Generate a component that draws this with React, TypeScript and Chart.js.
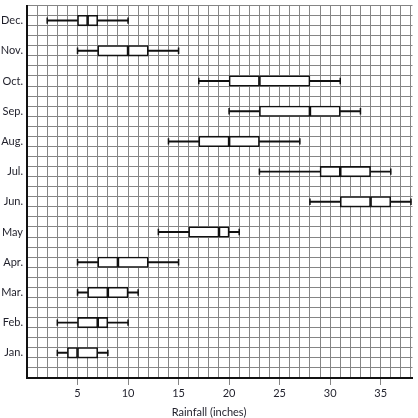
import React, { useEffect, useRef } from "react";
import { Chart, registerables } from "chart.js";

Chart.register(...registerables);

const months = ["Jan.", "Feb.", "Mar.", "Apr.", "May", "Jun.", "Jul.", "Aug.", "Sep.", "Oct.", "Nov.", "Dec."];
const minVals = [3, 3, 5, 5, 13, 28, 23, 14, 20, 17, 5, 2];
const q1Vals = [4, 5, 6, 7, 16, 31, 29, 17, 23, 20, 7, 5];
const medVals = [5, 7, 8, 9, 19, 34, 31, 20, 28, 23, 10, 6];
const q3Vals = [7, 8, 10, 12, 20, 36, 34, 23, 31, 28, 12, 7];
const maxVals = [8, 10, 11, 15, 21, 38, 36, 27, 33, 31, 15, 10];
const xTickLabels = [5, 10, 15, 20, 25, 30, 35];
const axisTitle = "Rainfall (inches)";

const FONT = "Lato, 'Open Sans', sans-serif";
const GRID = "#858585";
const TEXT = "#1f1f2a";
const INK = "#111111";

export default function App() {
  const ref = useRef<HTMLCanvasElement | null>(null);

  useEffect(() => {
    const canvas = ref.current;
    if (!canvas) return;
    const pos = months.map((_, i) => 2.5 + 3 * i);

    const boxStyle = {
      type: "bar" as const,
      backgroundColor: "#ffffff",
      borderColor: INK,
      borderWidth: 1.6,
      borderSkipped: false,
      barThickness: 10.5,
      grouped: false,
    };
    const whiskerStyle = {
      type: "bar" as const,
      backgroundColor: INK,
      borderWidth: 0,
      barThickness: 1.3,
      grouped: false,
    };

    const chart = new Chart(canvas, {
      type: "bar",
      data: {
        datasets: [
          {
            type: "scatter",
            data: [
              ...minVals.map((v, i) => ({ x: v, y: pos[i] })),
              ...maxVals.map((v, i) => ({ x: v, y: pos[i] })),
            ],
            pointStyle: "line",
            rotation: 90,
            radius: 3.2,
            borderColor: INK,
            borderWidth: 1.5,
            backgroundColor: INK,
            showLine: false,
          } as any,
          { ...boxStyle, data: q1Vals.map((v, i) => ({ x: [v, medVals[i]], y: pos[i] })) } as any,
          { ...boxStyle, data: medVals.map((v, i) => ({ x: [v, q3Vals[i]], y: pos[i] })) } as any,
          { ...whiskerStyle, data: minVals.map((v, i) => ({ x: [v, q1Vals[i]], y: pos[i] })) } as any,
          { ...whiskerStyle, data: q3Vals.map((v, i) => ({ x: [v, maxVals[i]], y: pos[i] })) } as any,
        ],
      },
      options: {
        indexAxis: "y",
        animation: false,
        responsive: false,
        maintainAspectRatio: false,
        layout: { padding: 0 },
        font: { family: FONT, size: 11 },
        plugins: {
          legend: { display: false },
          tooltip: { enabled: false },
          title: {
            display: true,
            text: axisTitle,
            position: "bottom",
            color: TEXT,
            font: { family: FONT, size: 11, weight: "normal", lineHeight: 1 },
            padding: { top: 0, bottom: 0 },
          },
        },
        scales: {
          x: {
            type: "linear",
            min: 0,
            max: 38.15,
            offset: false,
            afterBuildTicks: (scale: any) => {
              const t = [];
              for (let v = 0; v <= 38; v++) t.push({ value: v });
              scale.ticks = t;
            },
            afterFit: (scale: any) => {
              scale.height = 29;
              scale.paddingLeft = 0;
              scale.paddingRight = 0;
            },
            grid: {
              offset: false,
              color: GRID,
              lineWidth: 1,
              drawTicks: true,
              tickLength: 7,
              tickColor: (ctx: any) =>
                ctx.tick && xTickLabels.includes(ctx.tick.value) ? GRID : "rgba(0,0,0,0)",
            },
            border: { display: true, color: INK, width: 2 },
            ticks: {
              autoSkip: false,
              maxRotation: 0,
              minRotation: 0,
              padding: 2,
              color: TEXT,
              font: { family: FONT, size: 11 },
              callback: (v: any) => (xTickLabels.includes(Number(v)) ? String(v) : ""),
            },
          },
          y: {
            type: "linear",
            min: 0,
            max: 37,
            offset: false,
            afterBuildTicks: (scale: any) => {
              const vals: number[] = [];
              for (let v = 0; v <= 37; v++) vals.push(v);
              pos.forEach((p) => vals.push(p));
              vals.sort((a, b) => a - b);
              scale.ticks = vals.map((v) => ({ value: v }));
            },
            afterFit: (scale: any) => {
              scale.width = 27;
              scale.paddingTop = 0;
              scale.paddingBottom = 0;
            },
            grid: {
              offset: false,
              drawTicks: false,
              lineWidth: 1,
              color: (ctx: any) =>
                ctx.tick && Number.isInteger(ctx.tick.value) ? GRID : "rgba(0,0,0,0)",
            },
            border: { display: true, color: INK, width: 2 },
            ticks: {
              autoSkip: false,
              padding: 4,
              color: TEXT,
              font: { family: FONT, size: 11 },
              callback: (v: any) => {
                const idx = pos.indexOf(Number(v));
                return idx >= 0 ? months[idx] : "";
              },
            },
          },
        },
      } as any,
    });

    return () => chart.destroy();
  }, []);

  return (
    <div style={{ position: "fixed", left: 0, top: 0, width: 418, height: 418, background: "#fff" }}>
      <canvas ref={ref} width={418} height={418} style={{ display: "block" }} />
    </div>
  );
}
